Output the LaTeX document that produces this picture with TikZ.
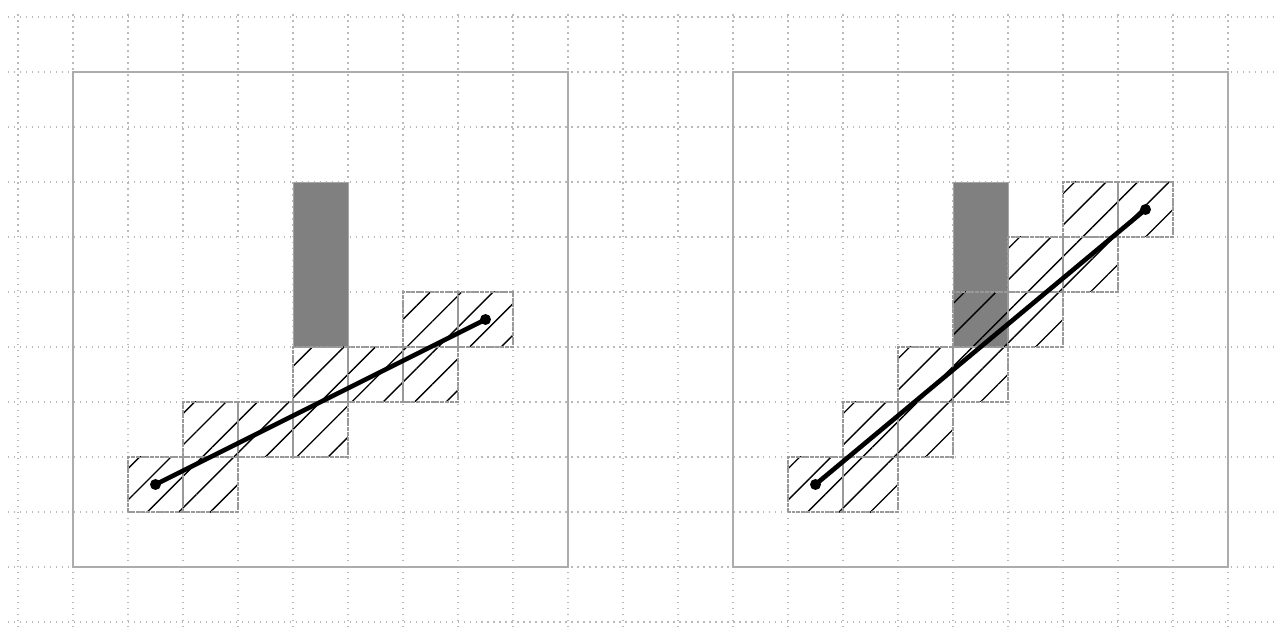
\documentclass[tikz,border=0pt]{standalone}
\usetikzlibrary{patterns.meta}

\tikzset{
  gridline/.style={gray!55, line width=0.7pt, dash pattern=on 0.7pt off 2.4pt},
  frame/.style={draw=gray!65, line width=1pt},
  cell/.style={pattern={Lines[angle=45,distance=11.5pt,line width=0.7pt]},
    postaction={draw=gray!80, line width=0.6pt, dash pattern=on 2pt off 0.5pt}},
  block/.style={fill=gray, draw=gray!70, line width=0.4pt},
  segment/.style={line width=2.4pt},
}

\begin{document}
\begin{tikzpicture}
\useasboundingbox (-0.327,-0.109) rectangle (22.909,11.309);

\draw[gridline] (-0.18,-0.2) grid (23,11.13);

% left: blocked cell stops the ray
\begin{scope}
\coordinate (a) at (2.5,2.5);
\coordinate (b) at (8.5,5.5);

\draw[frame] (1,1) rectangle (10,10);
\draw[block] (5,5) rectangle (6,8);

\path[cell] (2,2) rectangle ++(1,1);
\path[cell] (3,2) rectangle ++(1,1);
\path[cell] (3,3) rectangle ++(1,1);
\path[cell] (4,3) rectangle ++(1,1);
\path[cell] (5,3) rectangle ++(1,1);
\path[cell] (5,4) rectangle ++(1,1);
\path[cell] (6,4) rectangle ++(1,1);
\path[cell] (7,4) rectangle ++(1,1);
\path[cell] (7,5) rectangle ++(1,1);
\path[cell] (8,5) rectangle ++(1,1);

\draw[segment] (a) -- (b);
\fill (a) circle (0.1);
\fill (b) circle (0.1);
\end{scope}

% right
\begin{scope}[xshift=12cm]
\coordinate (c) at (2.5,2.5);
\coordinate (d) at (8.5,7.5);

\draw[frame] (1,1) rectangle (10,10);
\draw[block] (5,5) rectangle (6,8);

\path[cell] (2,2) rectangle ++(1,1);
\path[cell] (3,2) rectangle ++(1,1);
\path[cell] (3,3) rectangle ++(1,1);
\path[cell] (4,3) rectangle ++(1,1);
\path[cell] (4,4) rectangle ++(1,1);
\path[cell] (5,4) rectangle ++(1,1);
\path[cell] (5,5) rectangle ++(1,1);
\path[cell] (6,5) rectangle ++(1,1);
\path[cell] (6,6) rectangle ++(1,1);
\path[cell] (7,6) rectangle ++(1,1);
\path[cell] (7,7) rectangle ++(1,1);
\path[cell] (8,7) rectangle ++(1,1);

\draw[segment] (c) -- (d);
\fill (c) circle (0.1);
\fill (d) circle (0.1);
\end{scope}

\end{tikzpicture}
\end{document}
